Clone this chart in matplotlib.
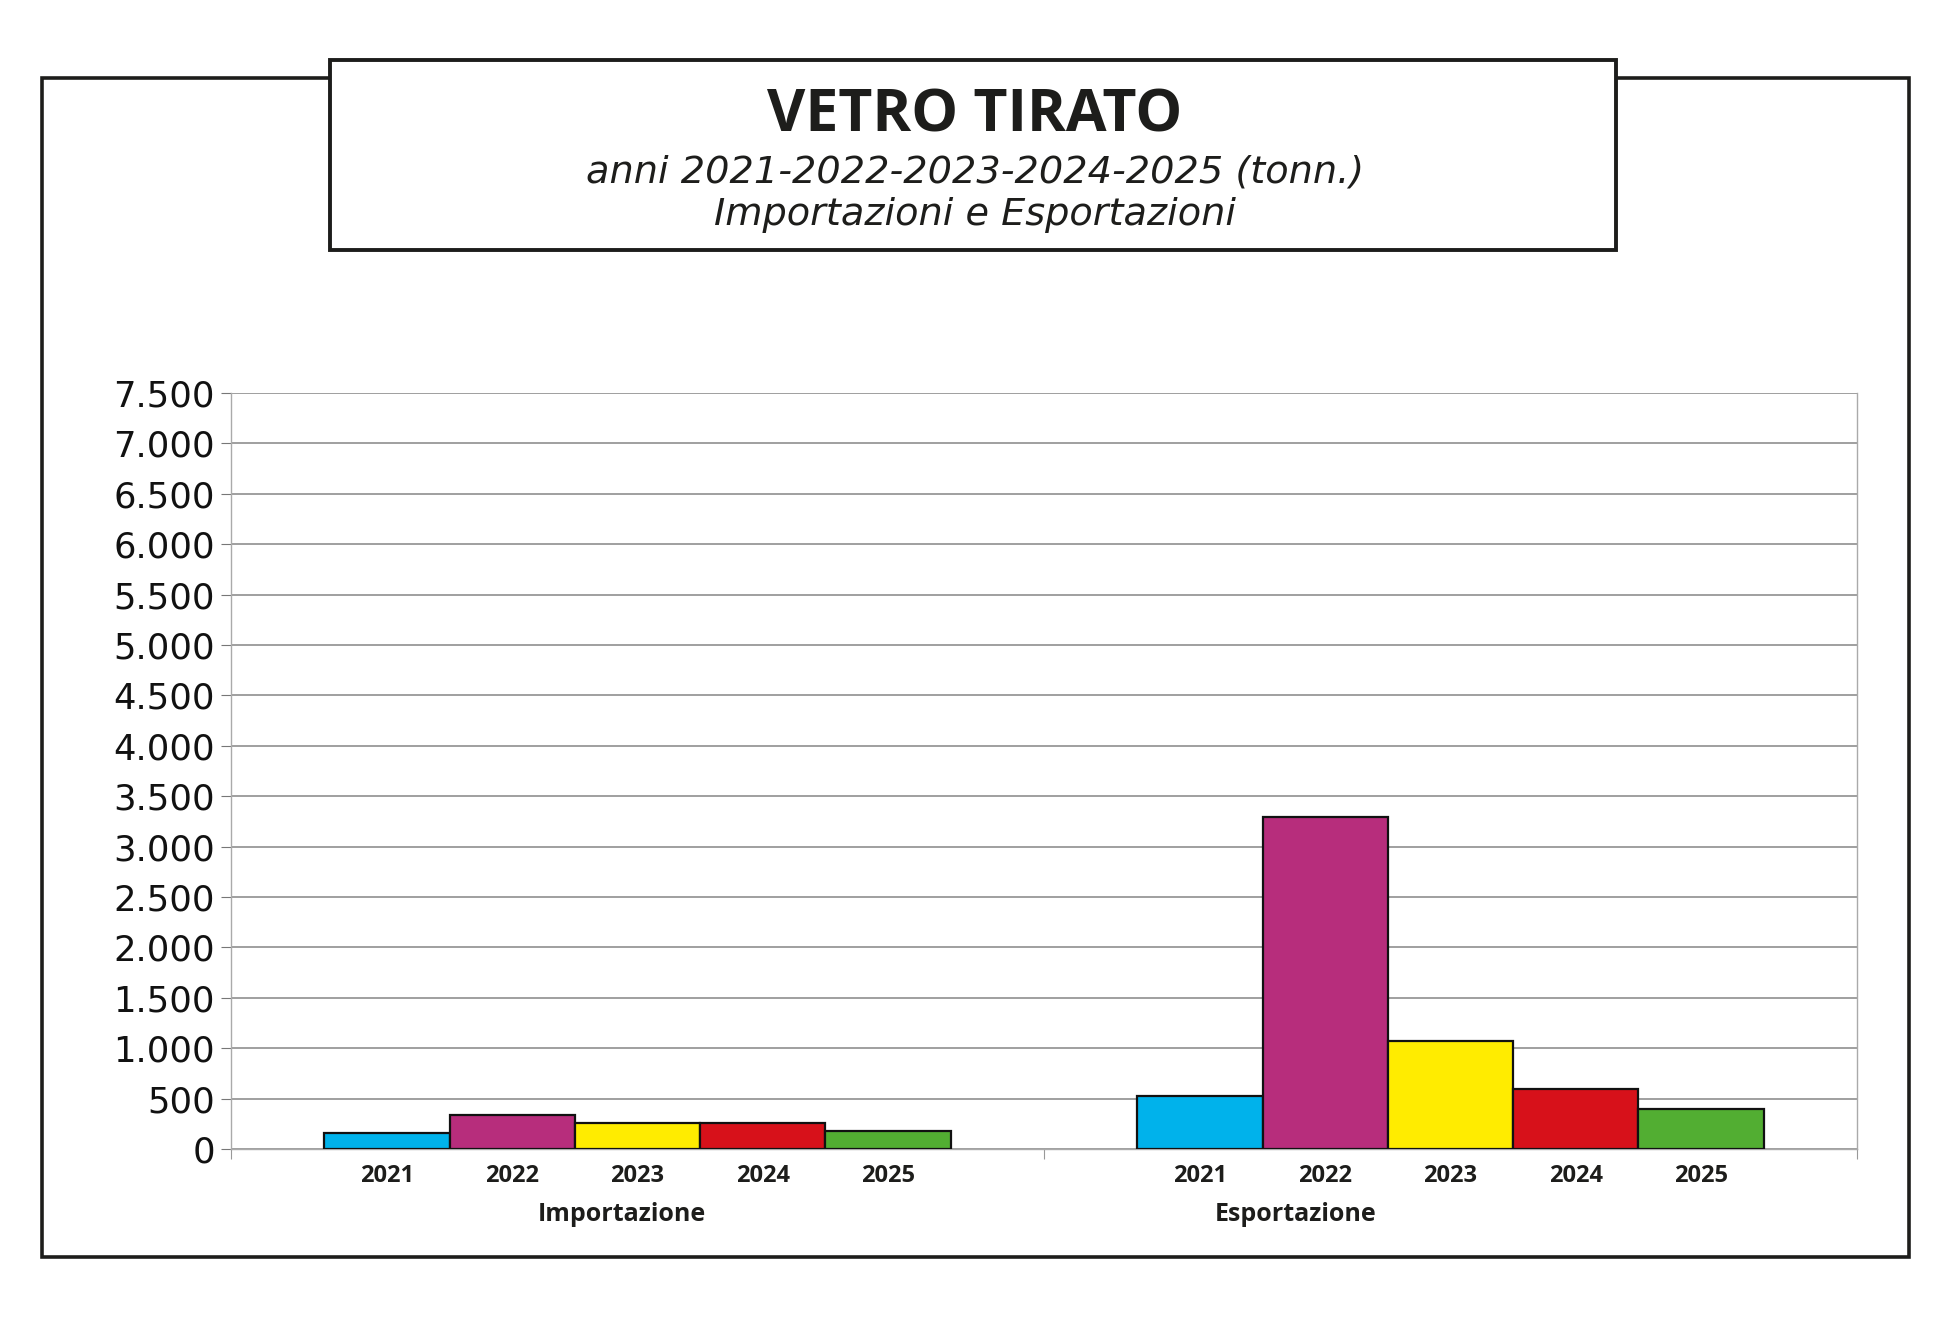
import matplotlib
matplotlib.use("Agg")
import matplotlib.pyplot as plt
import numpy as np
from matplotlib.patches import Rectangle
from matplotlib.ticker import FuncFormatter

# data
groups = ["Importazione", "Esportazione"]
years = ["2021", "2022", "2023", "2024", "2025"]
importazione = [161, 342, 257, 253, 174]
esportazione = [525, 3289, 1071, 595, 393]
colors = ["#00B2EB", "#B72D7C", "#FFEC00", "#D7111A", "#52AE32"]
group_label_x = [0.481, 1.31]

W, H = 1950, 1329
fig = plt.figure(figsize=(W / 100, H / 100), dpi=100)

def fx(px):
    return px / W

def fy(py):
    return 1 - py / H

ink = "#1d1d1b"

# outer frame and title box
fig.patches.append(Rectangle((fx(41.5), fy(1257)), fx(1909) - fx(41.5), fy(78) - fy(1257),
                             transform=fig.transFigure, fill=False, lw=2.6, ec=ink))
fig.patches.append(Rectangle((fx(330), fy(250)), fx(1616) - fx(330), fy(60) - fy(250),
                             transform=fig.transFigure, fc="white", lw=2.8, ec=ink, zorder=5))

title_font = ["Open Sans", "DejaVu Sans"]
fig.text(0.5, fy(115.5), "VETRO TIRATO", ha="center", va="center", fontsize=42.5,
         fontweight="bold", family=title_font, color=ink, zorder=6)
fig.text(0.5, fy(173), "anni 2021-2022-2023-2024-2025 (tonn.)", ha="center", va="center",
         fontsize=27.5, style="italic", family="DejaVu Sans", color=ink, zorder=6)
fig.text(0.5, fy(215), "Importazioni e Esportazioni", ha="center", va="center",
         fontsize=27.5, style="italic", family="DejaVu Sans", color=ink, zorder=6)

ax = fig.add_axes([fx(231), fy(1149), fx(1857) - fx(231), fy(393) - fy(1149)])

n = len(years)
bar_w = 0.77 / n
for g, vals in enumerate([importazione, esportazione]):
    start = g + 0.5 - 0.385
    xs = start + bar_w * (np.arange(n) + 0.5)
    ax.bar(xs, vals, width=bar_w, color=colors, edgecolor="#111111", linewidth=1.6, zorder=3)
    for x, yr in zip(xs, years):
        ax.text(x, -0.036, yr, transform=ax.get_xaxis_transform(), ha="center", va="center",
                fontsize=17, fontweight="bold", family=title_font, color=ink)
    ax.text(group_label_x[g], -0.087, groups[g], transform=ax.get_xaxis_transform(),
            ha="center", va="center", fontsize=18, fontweight="bold", family=title_font,
            color=ink)

ax.set_xlim(0, 2)
ax.set_ylim(0, 7500)
ax.set_yticks(np.arange(0, 7501, 500))
ax.yaxis.set_major_formatter(FuncFormatter(lambda v, p: f"{int(v):,}".replace(",", ".")))
ax.set_xticks([0, 1, 2])
ax.set_xticklabels([])
ax.tick_params(axis="x", length=7.2, width=0.8, color="#999999")
ax.tick_params(axis="y", length=7.2, width=0.8, color="#777777", labelsize=25.5, pad=4.3)
for lab in ax.get_yticklabels():
    lab.set_family("DejaVu Sans")
    lab.set_color("#111111")
ax.grid(axis="y", color="#858585", linewidth=1.1, zorder=0)
ax.set_axisbelow(True)
for side in ["left", "right", "bottom"]:
    ax.spines[side].set_color("#aaaaaa")
    ax.spines[side].set_linewidth(1)
ax.spines["top"].set_visible(False)

fig.savefig("out.png", dpi=100)
